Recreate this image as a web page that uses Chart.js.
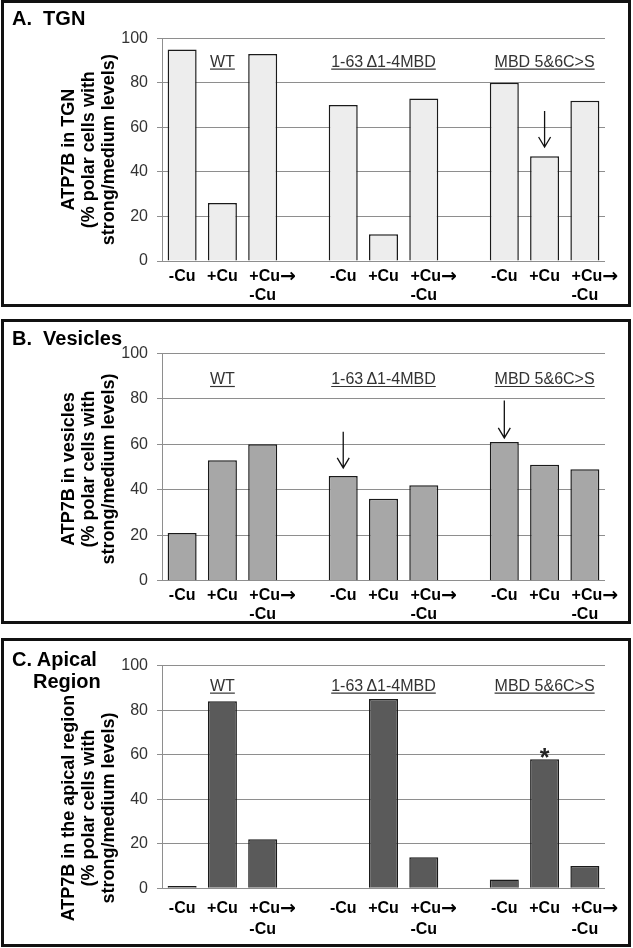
<!DOCTYPE html>
<html>
<head>
<meta charset="utf-8">
<script src="https://cdn.jsdelivr.net/npm/chart.js@4.4.1/dist/chart.umd.min.js"></script>
<style>
  body { margin: 0; background: #fff; width: 633px; height: 948px; position: relative; overflow: hidden;
         font-family: 'Liberation Sans', Arial, sans-serif; }
  .panel { position: absolute; left: 1px; width: 630px; border: 3px solid #111; box-sizing: border-box; }
  canvas { position: absolute; left: 0; }
  .ttl { position: absolute; font-weight: bold; font-size: 20px; line-height: 20px; color: #000; white-space: pre; }
</style>
</head>
<body>
<div class="panel" style="top:0px;height:307px"></div>
<div class="panel" style="top:319px;height:305px"></div>
<div class="panel" style="top:638px;height:309px"></div>

<canvas id="tgnChart" width="633" height="307" style="top:0px"></canvas>
<canvas id="vesChart" width="633" height="305" style="top:319px"></canvas>
<canvas id="apiChart" width="633" height="309" style="top:638px"></canvas>

<div class="ttl" style="left:12px;top:8px">A.  TGN</div>
<div class="ttl" style="left:12px;top:328px">B.  Vesicles</div>
<div class="ttl" style="left:12px;top:649px">C. Apical</div>
<div class="ttl" style="left:33px;top:671px">Region</div>

<script>
// data
const treatments = ['-Cu', '+Cu', ['+Cu\u2192', '-Cu']];
const constructs = ['WT', '1-63\u2009\u03941-4MBD', 'MBD 5&6C>S'];
const tgnValues = [95, 26, 93, 70, 12, 73, 80, 47, 72];
const vesicleValues = [21, 53, 60, 46, 36, 42, 61, 51, 49];
const apicalValues = [1, 84, 22, 0, 85, 14, 4, 58, 10];
const yTicks = [0, 20, 40, 60, 80, 100];

// colors
var lightGrey = '#ededed';
var midGrey = '#a7a7a7';
var darkGrey = '#5a5a5a';
var gridGrey = '#8e8e8e';

var FONT = '"Liberation Sans", Arial, sans-serif';
var labelFont = 'bold 16px ' + FONT;
var arrowFont = 'bold 19px "DejaVu Sans", sans-serif';

// three bars per construct, an empty slot between constructs
function slots(values) {
  const out = [];
  constructs.forEach((c, g) => {
    treatments.forEach((t, k) => out.push(values ? values[g * 3 + k] : t));
    if (g < constructs.length - 1) out.push(values ? null : '');
  });
  return out;
}

// text with the arrow glyph taken from DejaVu (wider, centred on x-height)
function pieces(ctx, text) {
  return text.split(/(\u2192)/).filter(s => s).map(s => {
    ctx.font = s === '\u2192' ? arrowFont : labelFont;
    return { s: s, font: ctx.font, w: ctx.measureText(s).width };
  });
}
function textWidth(ctx, text) {
  return pieces(ctx, text).reduce((a, p) => a + p.w, 0);
}
function drawText(ctx, text, left, base) {
  ctx.textAlign = 'left';
  pieces(ctx, text).forEach(p => {
    ctx.font = p.font;
    ctx.fillText(p.s, left, p.s === '\u2192' ? base + 0.5 : base);
    left += p.w;
  });
}

//---------------- decorations: x labels, y title, construct names, arrows, asterisk
const decor = {
  id: 'decor',
  afterDraw(chart, args, opts) {
    const ctx = chart.ctx, x = chart.scales.x, y = chart.scales.y, area = chart.chartArea;
    ctx.save();
    // x labels
    ctx.fillStyle = '#000';
    ctx.textBaseline = 'alphabetic';
    chart.data.labels.forEach((l, i) => {
      if (l === '') return;
      const lines = Array.isArray(l) ? l : [l];
      const cx = x.getPixelForValue(i);
      const left = cx - textWidth(ctx, lines[lines.length - 1]) / 2;
      lines.forEach((s, k) => drawText(ctx, s, left, area.bottom + opts.labelTop + k * opts.lineGap));
    });
    // y title, three rotated lines
    ctx.font = 'bold 18px ' + FONT;
    ctx.textAlign = 'center';
    ctx.textBaseline = 'middle';
    const cy = (area.top + area.bottom) / 2 + opts.titleShift;
    opts.title.forEach((s, k) => {
      ctx.save();
      ctx.translate(69.5 + k * 20, cy);
      ctx.rotate(-Math.PI / 2);
      ctx.fillText(s, 0, 0);
      ctx.restore();
    });
    // construct names, underlined
    ctx.textBaseline = 'alphabetic';
    ctx.font = '16px ' + FONT;
    ctx.fillStyle = '#333';
    ctx.strokeStyle = '#333';
    ctx.lineWidth = 1.2;
    constructs.forEach((c, g) => {
      const cx = x.getPixelForValue(g * 4 + 1);
      const by = y.getPixelForValue(opts.groupLevel);
      ctx.fillText(c, cx, by);
      const w = ctx.measureText(c).width;
      ctx.beginPath();
      ctx.moveTo(cx - w / 2, by + 2.5);
      ctx.lineTo(cx + w / 2, by + 2.5);
      ctx.stroke();
    });
    // arrows
    ctx.strokeStyle = '#111';
    ctx.lineWidth = 1.3;
    (opts.arrows || []).forEach(a => {
      const ax = x.getPixelForValue(a[0]);
      const tip = y.getPixelForValue(a[1]), tail = y.getPixelForValue(a[2]);
      ctx.beginPath();
      ctx.moveTo(ax, tail);
      ctx.lineTo(ax, tip);
      ctx.moveTo(ax - 6, tip - 10);
      ctx.lineTo(ax, tip);
      ctx.lineTo(ax + 6, tip - 10);
      ctx.stroke();
    });
    // asterisk
    if (opts.star) {
      ctx.font = 'bold 25px ' + FONT;
      ctx.fillStyle = '#222';
      ctx.fillText('*', x.getPixelForValue(opts.star[0]), y.getPixelForValue(opts.star[1]) + 14.5);
    }
    ctx.restore();
  }
};

function makeChart(id, values, color, padTop, axisHeight, decorOpts) {
  return new Chart(document.getElementById(id), {
    type: 'bar',
    data: {
      labels: slots(),
      datasets: [{
        data: slots(values),
        backgroundColor: color,
        borderColor: '#1a1a1a',
        borderWidth: 1.5,
        barPercentage: 0.72,
        categoryPercentage: 1.0
      }]
    },
    options: {
      responsive: false,
      animation: false,
      devicePixelRatio: 1,
      layout: { padding: { top: padTop, right: 28, bottom: 0, left: 0 } },
      plugins: { legend: { display: false }, tooltip: { enabled: false }, decor: decorOpts },
      scales: {
        x: {
          grid: { display: false },
          border: { display: false },
          ticks: { display: false },
          afterFit: s => { s.height = axisHeight; }
        },
        y: {
          min: 0,
          max: 100,
          afterBuildTicks: s => { s.ticks = yTicks.map(v => ({ value: v })); },
          grid: { color: gridGrey, lineWidth: 1, tickLength: 5 },
          border: { color: gridGrey, width: 1 },
          ticks: { color: '#333', padding: 9, font: { family: FONT, size: 16 } },
          afterFit: s => { s.width = 162; }
        }
      }
    },
    plugins: [decor]
  });
}

//---------------- A. TGN
makeChart('tgnChart', tgnValues, lightGrey, 38.3, 46, {
  title: ['ATP7B in TGN', '(% polar cells with', 'strong/medium levels)'], titleShift: 0,
  labelTop: 20, lineGap: 19, groupLevel: 87.3, arrows: [[9, 51.2, 67.4]]
});

//---------------- B. Vesicles
makeChart('vesChart', vesicleValues, midGrey, 34.3, 43.3, {
  title: ['ATP7B in vesicles', '(% polar cells with', 'strong/medium levels)'], titleShift: 2,
  labelTop: 19.3, lineGap: 18.5, groupLevel: 86.5, arrows: [[4, 49.6, 65.5], [8, 62.8, 79.2]]
});

//---------------- C. Apical Region
makeChart('apiChart', apicalValues, darkGrey, 27.7, 58.7, {
  title: ['ATP7B in the apical region', '(% polar cells with', 'strong/medium levels)'], titleShift: 31,
  labelTop: 24.7, lineGap: 21, groupLevel: 88.8, star: [9, 61.3]
});
</script>
</body>
</html>
